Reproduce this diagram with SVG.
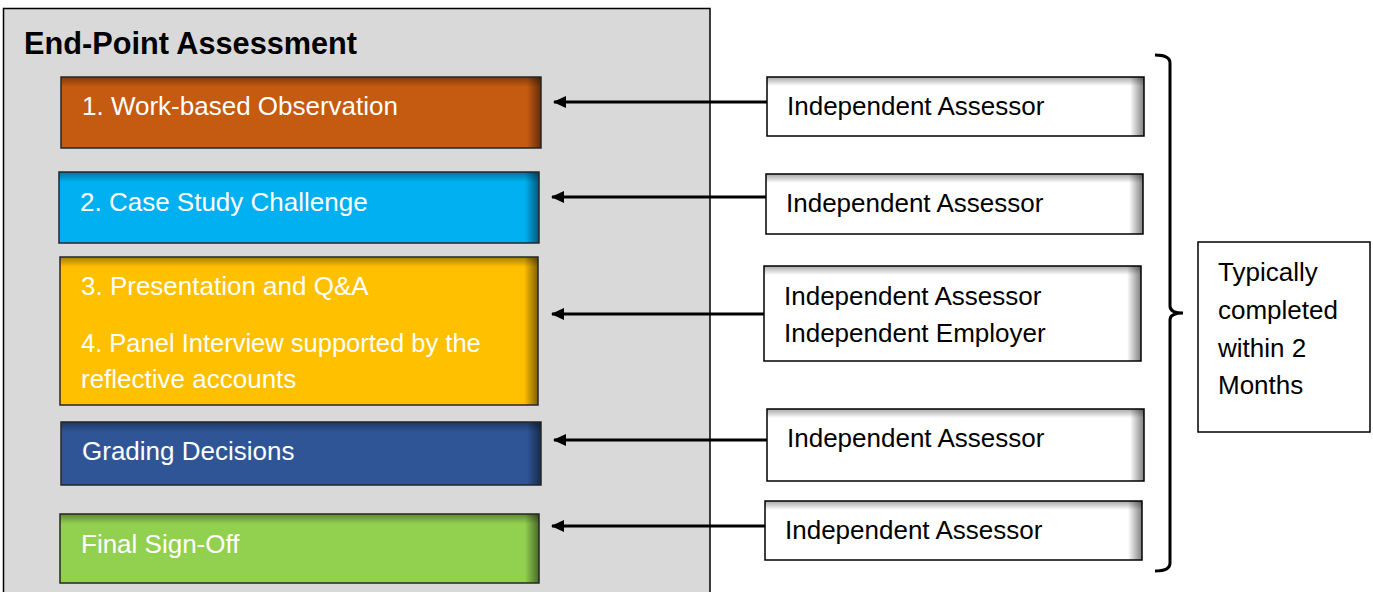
<svg xmlns="http://www.w3.org/2000/svg" width="1373" height="592" viewBox="0 0 1373 592">
<style>
.t{font-family:"Liberation Sans",Arial,sans-serif;font-size:26px;}
.w{fill:#ffffff;}
.k{fill:#000000;}
.bd{fill:none;stroke:#262626;stroke-width:1.5;}
.bk{fill:none;stroke:#000;stroke-width:1.5;}
.conn{stroke:#000;stroke-width:3;fill:none;marker-end:url(#ah);}
</style>
<defs>
<marker id="ah" markerWidth="14" markerHeight="12" refX="12" refY="6" orient="auto" markerUnits="userSpaceOnUse">
<path d="M0,0 L13,6 L0,12 Z" fill="#000"/>
</marker>
<linearGradient id="shR" x1="0" x2="1" y1="0" y2="0"><stop offset="0" stop-color="#000" stop-opacity="0"/><stop offset="1" stop-color="#000" stop-opacity="0.5"/></linearGradient>
<linearGradient id="shT" x1="0" x2="0" y1="0" y2="1"><stop offset="0" stop-color="#000" stop-opacity="0.35"/><stop offset="1" stop-color="#000" stop-opacity="0"/></linearGradient>
</defs>
<rect x="0" y="0" width="1373" height="592" fill="#ffffff"/>
<g id="panel">
<rect x="3.5" y="8.5" width="706.5" height="600" fill="#d9d9d9" stroke="#000" stroke-width="1.5"/>
<text x="24" y="54" class="t k" style="font-size:30.7px;font-weight:bold">End-Point Assessment</text>
</g>
<g id="n1">
<rect x="61" y="77" width="480" height="71" fill="#c55a11"/>
<rect x="527" y="77" width="14" height="71" fill="url(#shR)"/>
<rect x="61" y="77" width="480" height="10" fill="url(#shT)"/>
<rect x="61" y="77" width="480" height="71" class="bd"/>
<text x="82" y="115" class="t w">1. Work-based Observation</text>
</g>
<g id="n2">
<rect x="59" y="172" width="480" height="71" fill="#00b0f0"/>
<rect x="525" y="172" width="14" height="71" fill="url(#shR)"/>
<rect x="59" y="172" width="480" height="10" fill="url(#shT)"/>
<rect x="59" y="172" width="480" height="71" class="bd"/>
<text x="80" y="211" class="t w">2. Case Study Challenge</text>
</g>
<g id="n3">
<rect x="60" y="257" width="478" height="148" fill="#ffc000"/>
<rect x="524" y="257" width="14" height="148" fill="url(#shR)"/>
<rect x="60" y="257" width="478" height="10" fill="url(#shT)"/>
<rect x="60" y="257" width="478" height="148" class="bd"/>
<text x="81" y="295" class="t w">3. Presentation and Q&amp;A</text>
<text x="81" y="352" class="t w" style="font-size:25.5px">4. Panel Interview supported by the</text>
<text x="81" y="388" class="t w">reflective accounts</text>
</g>
<g id="n4">
<rect x="61" y="422" width="480" height="63" fill="#2f5597"/>
<rect x="527" y="422" width="14" height="63" fill="url(#shR)"/>
<rect x="61" y="422" width="480" height="10" fill="url(#shT)"/>
<rect x="61" y="422" width="480" height="63" class="bd"/>
<text x="82" y="460" class="t w">Grading Decisions</text>
</g>
<g id="n5">
<rect x="60" y="514" width="479" height="69" fill="#92d050"/>
<rect x="525" y="514" width="14" height="69" fill="url(#shR)"/>
<rect x="60" y="514" width="479" height="10" fill="url(#shT)"/>
<rect x="60" y="514" width="479" height="69" class="bd"/>
<text x="81" y="553" class="t w">Final Sign-Off</text>
</g>
<g id="r1">
<rect x="767" y="77" width="377" height="59" fill="#fff"/>
<rect x="1130" y="77" width="14" height="59" fill="url(#shR)"/>
<rect x="767" y="77" width="377" height="9" fill="url(#shT)"/>
<rect x="767" y="77" width="377" height="59" class="bk"/>
<text x="787" y="115" class="t k">Independent Assessor</text>
</g>
<g id="r2">
<rect x="766" y="174" width="377" height="60" fill="#fff"/>
<rect x="1129" y="174" width="14" height="60" fill="url(#shR)"/>
<rect x="766" y="174" width="377" height="9" fill="url(#shT)"/>
<rect x="766" y="174" width="377" height="60" class="bk"/>
<text x="786" y="212" class="t k">Independent Assessor</text>
</g>
<g id="r3">
<rect x="764" y="266" width="377" height="95" fill="#fff"/>
<rect x="1127" y="266" width="14" height="95" fill="url(#shR)"/>
<rect x="764" y="266" width="377" height="9" fill="url(#shT)"/>
<rect x="764" y="266" width="377" height="95" class="bk"/>
<text x="784" y="305" class="t k">Independent Assessor</text>
<text x="784" y="342" class="t k">Independent Employer</text>
</g>
<g id="r4">
<rect x="767" y="409" width="377" height="72" fill="#fff"/>
<rect x="1130" y="409" width="14" height="72" fill="url(#shR)"/>
<rect x="767" y="409" width="377" height="9" fill="url(#shT)"/>
<rect x="767" y="409" width="377" height="72" class="bk"/>
<text x="787" y="447" class="t k">Independent Assessor</text>
</g>
<g id="r5">
<rect x="765" y="501" width="377" height="59" fill="#fff"/>
<rect x="1128" y="501" width="14" height="59" fill="url(#shR)"/>
<rect x="765" y="501" width="377" height="9" fill="url(#shT)"/>
<rect x="765" y="501" width="377" height="59" class="bk"/>
<text x="785" y="539" class="t k">Independent Assessor</text>
</g>
<g id="note">
<rect x="1198" y="242" width="172" height="190" fill="#fff" stroke="#000" stroke-width="1.5"/>
<text x="1218" y="281" class="t k">Typically</text>
<text x="1218" y="319" class="t k">completed</text>
<text x="1218" y="357" class="t k">within 2</text>
<text x="1218" y="394" class="t k">Months</text>
</g>
<g id="connectors">
<line x1="767" y1="102" x2="554" y2="102" class="conn"/>
<line x1="766" y1="197" x2="552" y2="197" class="conn"/>
<line x1="764" y1="314" x2="552" y2="314" class="conn"/>
<line x1="767" y1="440" x2="554" y2="440" class="conn"/>
<line x1="765" y1="526" x2="552" y2="526" class="conn"/>
<path d="M1155,55 Q1170,55 1170,63 L1170,306 Q1170,313 1183,313 Q1170,313 1170,320 L1170,563 Q1170,571 1155,571" fill="none" stroke="#000" stroke-width="3"/>
</g>
</svg>
